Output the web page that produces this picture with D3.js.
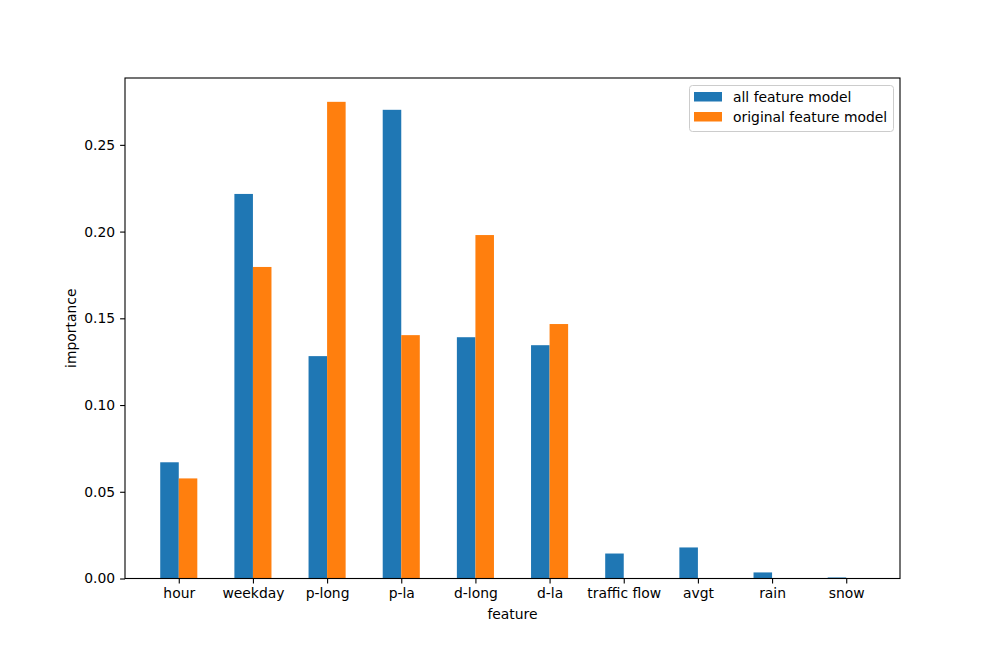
<!DOCTYPE html>
<html><head><meta charset="utf-8">
<script src="https://cdn.jsdelivr.net/npm/d3@7"></script>
<style>body{margin:0;background:#fff}svg{display:block;font-family:"DejaVu Sans",sans-serif}</style>
</head><body>
<svg id="c" width="1000" height="650"></svg>
<script>
const categories = ["hour","weekday","p-long","p-la","d-long","d-la","traffic flow","avgt","rain","snow"];
const allFeature = [0.0670,0.2217,0.1282,0.2702,0.1391,0.1345,0.0144,0.0179,0.0035,0.0006];
const originalFeature = [0.0577,0.1796,0.2748,0.1403,0.1980,0.1467,0,0,0,0];
const yTicks = [0,0.05,0.10,0.15,0.20,0.25];
const seriesNames = ["all feature model","original feature model"];
const colors = ["#1f77b4","#ff7f0e"];

const svg = d3.select("#c");
const L=125,R=900,T=78,B=578.5;
const barW=0.25;
const FS="13.9px";
const x = d3.scaleLinear().domain([-0.725,9.725]).range([L,R]);
const ymax = d3.max(allFeature.concat(originalFeature))*1.05;
const y = d3.scaleLinear().domain([0,ymax]).range([B,T]);

const series=[allFeature,originalFeature];
series.forEach((vals,si)=>{
  svg.append("g").selectAll("rect").data(vals).join("rect")
    .attr("x",(d,i)=>x(i+(si===0?-barW:0)))
    .attr("width",x(barW)-x(0))
    .attr("y",d=>y(d))
    .attr("height",d=>y(0)-y(d))
    .attr("fill",colors[si]);
});

const xAxis = svg.append("g").attr("transform",`translate(0,${B})`)
  .call(d3.axisBottom(x).tickValues(d3.range(categories.length)).tickFormat(i=>categories[i]).tickSize(4.9).tickPadding(4.9));
const yAxis = svg.append("g").attr("transform",`translate(${L},0)`)
  .call(d3.axisLeft(y).tickValues(yTicks).tickFormat(d3.format(".2f")).tickSize(4.9).tickPadding(4.9));
[xAxis,yAxis].forEach(a=>{a.select(".domain").remove();a.selectAll("text").attr("font-size",FS).attr("fill","#000").attr("font-family","DejaVu Sans");a.selectAll("line").attr("stroke","#000").attr("stroke-width",1.1);});

svg.append("rect").attr("x",L).attr("y",T).attr("width",R-L).attr("height",B-T)
  .attr("fill","none").attr("stroke","#000").attr("stroke-width",1.1);

svg.append("text").attr("x",(L+R)/2).attr("y",619).attr("text-anchor","middle").attr("font-size",FS).text("feature");
svg.append("text").attr("transform",`translate(76,${(T+B)/2}) rotate(-90)`).attr("text-anchor","middle").attr("font-size",FS).text("importance");

const lg = svg.append("g");
lg.append("rect").attr("x",689.5).attr("y",85.5).attr("width",204).attr("height",46).attr("rx",3)
  .attr("fill","#fff").attr("fill-opacity",0.8).attr("stroke","#ccc").attr("stroke-width",1);
seriesNames.forEach((n,i)=>{
  lg.append("rect").attr("x",694).attr("y",92+i*20).attr("width",28).attr("height",9.5).attr("fill",colors[i]);
  lg.append("text").attr("x",733).attr("y",101.5+i*20).attr("font-size",FS).text(n);
});
</script>
</body></html>
